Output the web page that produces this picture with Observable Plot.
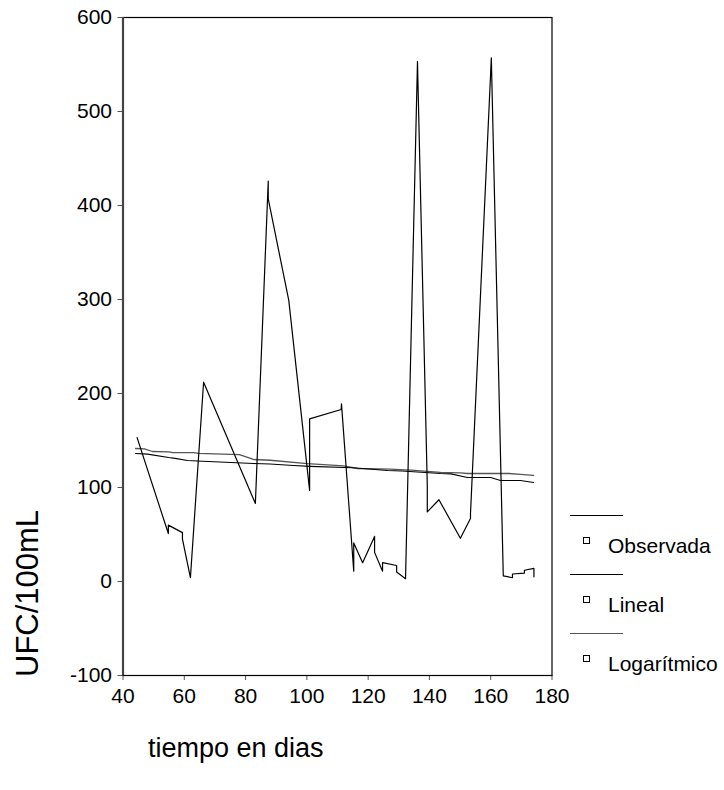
<!DOCTYPE html>
<html>
<head>
<meta charset="utf-8">
<script src="https://cdn.jsdelivr.net/npm/d3@7"></script>
<script src="https://cdn.jsdelivr.net/npm/@observablehq/plot@0.6"></script>
<style>
  html, body { margin: 0; padding: 0; background: #fff; }
  #chart { width: 724px; height: 790px; }
</style>
</head>
<body>
<div id="chart"></div>
<script>
// ---- data ----
const obsDays = [44.6, 54.8, 54.8, 59.4, 59.4, 62.0, 66.3, 83.2, 87.4, 87.4, 94.1, 100.9, 100.9, 111.2, 111.3, 115.3, 115.3, 118.2, 122.1, 122.1, 124.7, 124.7, 129.3, 129.3, 132.2, 136.1, 139.3, 139.3, 143.1, 150.1, 153.4, 153.4, 160.2, 164.1, 167.1, 167.1, 171.0, 171.0, 174.1, 174.1];
const obsValues = [153, 51, 60, 52, 45, 4, 212, 83, 426, 407, 299, 97, 173, 183, 189, 11, 41, 20, 48, 31, 11, 20, 17, 10, 3, 553, 102, 74, 87, 46, 67, 72, 557, 6, 4, 8, 9, 12, 14, 5];

const linDays = [44.1, 48.0, 54.9, 57.0, 61.1, 66.0, 82.6, 88.0, 95.6, 101.0, 115.0, 126.3, 131.0, 143.6, 147.0, 152.4, 160.0, 163.2, 169.7, 174.0];
const linValues = [136.2, 135.5, 131.9, 131.0, 128.7, 128.0, 125.5, 125.0, 123.4, 122.5, 121.0, 118.1, 117.5, 114.9, 114.5, 110.6, 110.6, 107.4, 107.4, 105.3];

const logDays = [44.1, 47.0, 49.6, 55.0, 56.2, 63.0, 64.6, 78.0, 82.6, 88.0, 100.2, 112.0, 116.5, 127.0, 134.0, 143.6, 150.0, 152.4, 166.0, 169.7, 174.0];
const logValues = [141.5, 141.0, 138.3, 138.0, 137.2, 137.0, 136.2, 135.0, 129.8, 129.0, 125.5, 123.0, 120.2, 119.5, 118.5, 116.0, 115.5, 114.9, 114.9, 114.0, 112.8];

const xTicks = [40, 60, 80, 100, 120, 140, 160, 180];
const yTicks = [-100, 0, 100, 200, 300, 400, 500, 600];
const seriesNames = ["Observada", "Lineal", "Logarítmico"];
const seriesColors = ["#000000", "#000000", "#555555"];
const xLabel = "tiempo en dias";
const yLabel = "UFC/100mL";

const obs = obsDays.map((d, i) => ({day: d, v: obsValues[i]}));
const lin = linDays.map((d, i) => ({day: d, v: linValues[i]}));
const log = logDays.map((d, i) => ({day: d, v: logValues[i]}));

const W = 724, H = 790;
const mL = 122.5, mR = 172.5, mT = 17, mB = 115;
const font = "'Liberation Sans', Arial, sans-serif";

const chart = Plot.plot({
  width: W,
  height: H,
  marginLeft: mL,
  marginRight: mR,
  marginTop: mT,
  marginBottom: mB,
  style: {fontFamily: font, fontSize: "21px", background: "#fff", color: "#000"},
  x: {domain: [40, 180]},
  y: {domain: [-100, 600]},
  marks: [
    Plot.axisY({ticks: yTicks, tickSize: 5, tickPadding: 6, label: null, fontSize: 21, stroke: "#555", tickFormat: d => String(d)}),
    Plot.axisX({ticks: xTicks, tickSize: 5, tickPadding: 8, label: null, fontSize: 21, stroke: "#555", tickFormat: d => String(d)}),
    Plot.frame({stroke: "#000", strokeWidth: 1.2}),
    Plot.ruleX([40], {stroke: "#444", strokeWidth: 2.2}),
    Plot.line(log, {x: "day", y: "v", stroke: seriesColors[2], strokeWidth: 1.3}),
    Plot.line(lin, {x: "day", y: "v", stroke: seriesColors[1], strokeWidth: 1.1}),
    Plot.line(obs, {x: "day", y: "v", stroke: seriesColors[0], strokeWidth: 1.2})
  ]
});

const svg = d3.select(chart);
// axis titles
svg.append("text")
  .attr("x", 148).attr("y", 757)
  .attr("text-anchor", "start")
  .attr("font-family", font).attr("font-size", 27)
  .attr("fill", "#000")
  .text(xLabel);
svg.append("text")
  .attr("transform", "translate(38,677) rotate(-90)")
  .attr("text-anchor", "start")
  .attr("font-family", font).attr("font-size", 31)
  .attr("fill", "#000")
  .text(yLabel);

// legend
const lg = svg.append("g").attr("font-family", font).attr("font-size", 21).attr("text-anchor", "start");
seriesNames.forEach((name, i) => {
  const y0 = 515.5 + 59 * i;
  lg.append("line").attr("x1", 570).attr("x2", 623).attr("y1", y0).attr("y2", y0)
    .attr("stroke", seriesColors[i]).attr("stroke-width", 1);
  lg.append("rect").attr("x", 583.5).attr("y", y0 + 22).attr("width", 6).attr("height", 6)
    .attr("fill", "none").attr("stroke", "#000").attr("stroke-width", 1);
  lg.append("text").attr("x", 608).attr("y", y0 + 37).attr("fill", "#000").text(name);
});

document.getElementById("chart").appendChild(chart);
</script>
</body>
</html>
